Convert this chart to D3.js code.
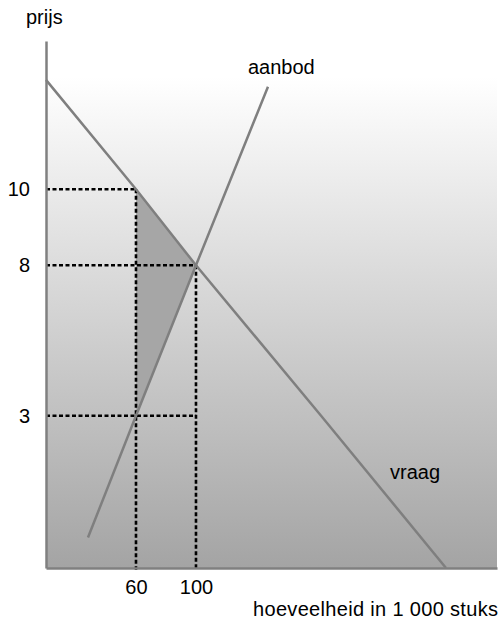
<!DOCTYPE html>
<html>
<head>
<meta charset="utf-8">
<script src="https://cdn.jsdelivr.net/npm/d3@7"></script>
<style>
  html, body { margin: 0; padding: 0; background: #fff; }
  svg { display: block; font-family: "Liberation Sans", Arial, sans-serif; }
</style>
</head>
<body>
<svg id="chart" width="503" height="619"></svg>
<script>
// ---- data (quantity in 1 000 units, price) ----
const xTicks = [60, 100];
const yTicks = [3, 8, 10];
const demandQ = [0, 60, 100, 183.4, 266.7];
const demandP = [12.88, 10, 8, 3, 0];
const supplyQ = [28, 60, 100, 148];
const supplyP = [0.6, 3, 8, 12.7];
const surplusQ = [60, 100, 60];
const surplusP = [10, 8, 3];
const guideQ = [60, 100, 100];
const guideP = [10, 8, 3];
const labels = { y: "prijs", x: "hoeveelheid in 1 000 stuks", supply: "aanbod", demand: "vraag" };

const FS = 20;
const svg = d3.select("#chart");

// schematic (piecewise) price scale as drawn in the picture
const x = d3.scaleLinear().domain([0, 300.7]).range([46, 497]);
const y = d3.scaleLinear().domain([0, 3, 8, 10, 13.9]).range([568, 415.7, 265.3, 189.3, 41.1]);

// gradient background
const defs = svg.append("defs");
const grad = defs.append("linearGradient").attr("id", "bg").attr("x1", 0).attr("y1", 0).attr("x2", 0).attr("y2", 1);
grad.append("stop").attr("offset", "0%").attr("stop-color", "#ffffff");
grad.append("stop").attr("offset", "100%").attr("stop-color", "#a4a4a4");

svg.append("rect")
  .attr("x", x(0)).attr("y", y(12.95))
  .attr("width", x(300.7) - x(0)).attr("height", y(0) - y(12.95))
  .attr("fill", "url(#bg)");

// consumer surplus triangle
const pts = surplusQ.map((q, i) => [x(q), y(surplusP[i])]);
svg.append("path")
  .attr("d", d3.line()(pts) + "Z")
  .attr("fill", "#a6a6a6");

// dashed guide lines
const g = svg.append("g").attr("stroke", "#000").attr("stroke-width", 2.6).attr("stroke-dasharray", "4,2.5").attr("fill", "none");
guideQ.forEach((q, i) => {
  g.append("line").attr("x1", x(0)).attr("x2", x(q)).attr("y1", y(guideP[i])).attr("y2", y(guideP[i]));
});
[[60, 10], [100, 8]].forEach(([q, p]) => {
  g.append("line").attr("x1", x(q)).attr("x2", x(q)).attr("y1", y(p)).attr("y2", y(0) + 2);
});

// demand & supply
const line = d3.line().x(d => x(d[0])).y(d => y(d[1]));
svg.append("path")
  .attr("d", line(demandQ.map((q, i) => [q, demandP[i]])))
  .attr("fill", "none").attr("stroke", "#7f7f7f").attr("stroke-width", 2.5);
svg.append("path")
  .attr("d", line(supplyQ.map((q, i) => [q, supplyP[i]])))
  .attr("fill", "none").attr("stroke", "#7f7f7f").attr("stroke-width", 2.5);

// axes
const xAxis = svg.append("g").attr("transform", `translate(0,${y(0)})`)
  .call(d3.axisBottom(x).tickValues(xTicks).tickSize(0).tickPadding(12).tickSizeOuter(0));
const yAxis = svg.append("g").attr("transform", `translate(${x(0)},0)`)
  .call(d3.axisLeft(y).tickValues(yTicks).tickSize(0).tickPadding(16).tickSizeOuter(0));
[xAxis, yAxis].forEach(a => {
  a.attr("font-size", FS).attr("font-family", "Liberation Sans, Arial, sans-serif");
  a.select(".domain").attr("stroke", "#808080").attr("stroke-width", 2.5);
  a.selectAll("text").attr("fill", "#000");
});

// labels
const txt = (s, xx, yy, anchor) => svg.append("text").attr("x", xx).attr("y", yy)
  .attr("text-anchor", anchor).attr("font-size", FS).attr("fill", "#000").text(s);
txt(labels.y, 26, 24, "start");
txt(labels.x, 253, 616, "start").attr("textLength", 245).attr("lengthAdjust", "spacing");
txt(labels.supply, 248, 74, "start");
txt(labels.demand, 390, 479, "start");
</script>
</body>
</html>
